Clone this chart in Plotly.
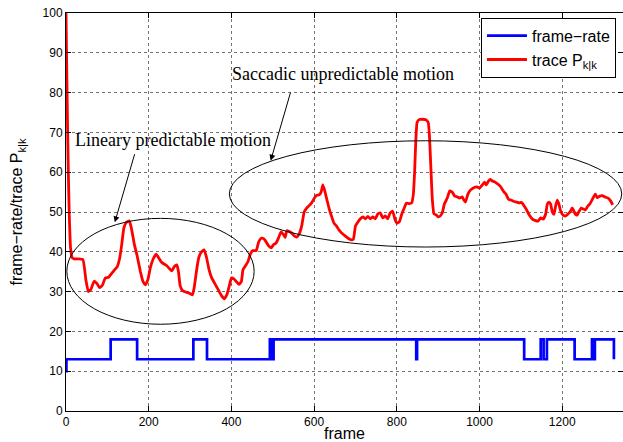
import plotly.graph_objects as go

# trace of the error covariance P_k|k over the sequence
trace_frames = [0, 2, 4, 6, 8, 11, 15, 20, 30, 41, 48, 54, 60, 68, 75, 81, 88, 95, 103, 110,
                118, 124, 130, 135, 140, 146, 153, 158, 165, 172, 180, 186, 192, 198, 204, 210,
                218, 224, 230, 236, 244, 250, 256, 262, 268, 272, 276, 282, 292, 300, 306, 310,
                316, 321, 327, 334, 340, 346, 352, 360, 368, 376, 383, 389, 395, 400, 406, 412,
                418, 424, 428, 434, 440, 446, 452, 460, 466, 472, 478, 484, 490, 496, 502, 508,
                514, 520, 526, 530, 534, 540, 546, 552, 558, 564, 570, 576, 582, 588, 594, 600,
                606, 612, 617, 621, 625, 630, 636, 642, 648, 654, 660, 664, 668, 675, 682, 690,
                695, 700, 706, 712, 718, 724, 730, 736, 742, 748, 754, 760, 766, 772, 778, 784,
                790, 796, 800, 806, 812, 818, 823, 830, 836, 840, 843, 846, 849, 854, 862, 870,
                876, 879, 882, 886, 890, 895, 900, 905, 910, 915, 922, 928, 934, 940, 946, 952,
                958, 962, 966, 972, 978, 986, 994, 1000, 1006, 1012, 1016, 1022, 1026, 1031, 1036,
                1042, 1050, 1058, 1064, 1070, 1076, 1082, 1090, 1096, 1102, 1108, 1114, 1120,
                1128, 1134, 1141, 1148, 1154, 1160, 1164, 1168, 1172, 1176, 1180, 1184, 1188,
                1192, 1196, 1202, 1208, 1214, 1220, 1224, 1228, 1232, 1236, 1240, 1246, 1250,
                1256, 1262, 1268, 1272, 1276, 1280, 1285, 1291, 1297, 1303, 1311, 1317, 1322]
trace_values = [100, 84, 70, 58, 49, 41, 38.5, 38.2, 38.2, 38.0, 33, 30, 30.5, 32.6, 32, 31,
                31.6, 33.4, 33.6, 34.5, 35.5, 36.3, 38.5, 42, 46, 47.4, 47.8, 46, 42, 39, 35,
                32.6, 31.7, 33, 36, 38, 39.4, 38.5, 37.5, 37, 36.5, 35.8, 35.2, 36.3, 36.7, 35,
                31.5, 30.2, 29.8, 29.5, 29.2, 31, 35.5, 38.5, 39.9, 40.5, 38.5, 35.5, 33.5, 32,
                30.5, 29, 28.2, 29.2, 31.5, 33.4, 33.2, 32.5, 31.8, 32.5, 35.5, 36.5, 37.5, 39.5,
                40.3, 40.3, 42.5, 43.4, 43.3, 42.5, 41.5, 41.0, 41.8, 42.2, 43.5, 45.0, 44.3,
                43.6, 45.3, 45.1, 44.7, 44.0, 43.7, 44.5, 46.5, 50, 51, 51.6, 52.3, 53.4, 54.2,
                54.3, 55, 56.8, 55.6, 53.5, 51, 49, 47.2, 46.5, 45.5, 45, 44.6, 44, 43.4, 43.0,
                43.2, 46.5, 47.5, 48.3, 48.8, 48.3, 48.9, 48.3, 48.8, 48.3, 49.5, 49.8, 48.5, 49,
                48.3, 49.8, 50.2, 48, 47.2, 47.5, 49.5, 51, 52.2, 52.1, 52.3, 54.5, 60, 68, 72.5,
                73.2, 73.3, 73.2, 72.5, 69, 62, 53, 49.5, 49.3, 48.8, 49, 49.8, 52, 53.5, 55.3,
                55, 54, 53.8, 53.5, 53.8, 53, 52.5, 54.5, 55.5, 56.1, 56.3, 56.0, 56.7, 57.5,
                56.8, 57.8, 58.2, 57.8, 57.6, 57.2, 56.5, 55.2, 54.5, 53.2, 53, 52.7, 52.5,
                52.3, 52.4, 51.5, 50.5, 49.3, 48.2, 47.9, 47.7, 48.5, 48.2, 49.5, 52, 52.5, 52,
                50, 49.4, 51.5, 53, 52, 50.3, 49.2, 49, 49.5, 50.2, 51, 50.3, 49.4, 49.2, 50, 51,
                50.8, 50.5, 51.5, 52.2, 53, 53.8, 54.5, 53.6, 54.0, 54.1, 53.8, 53.5, 52.8,
                51.8, 50]

# frame-rate switching points (step function)
rate_frames = [0, 1, 108, 172, 308, 341, 493, 497, 502, 847, 849, 1108, 1148, 1155, 1163,
               1230, 1272, 1276, 1279, 1325]
rate_values = [10, 13, 18, 13, 18, 13, 18, 13, 18, 13, 18, 13, 18, 13, 18, 13, 18, 13, 18, 13]

# annotated regions
linear_region = dict(x0=2, x1=455, y0=21.8, y1=48.4)
saccadic_region = dict(x0=395, x1=1344, y0=41.2, y1=67.9)

sans = "Liberation Sans, Arial, Helvetica, sans-serif"
serif = "Liberation Serif, Times New Roman, serif"

fig = go.Figure()
fig.add_trace(go.Scatter(x=rate_frames, y=rate_values, mode="lines", line_shape="hv",
                         line=dict(color="#0000ff", width=2.7), name="frame\u2212rate"))
fig.add_trace(go.Scatter(x=trace_frames, y=trace_values, mode="lines",
                         line=dict(color="#ff0000", width=2.8, shape="spline", smoothing=0.4),
                         name="trace P<sub>k|k</sub>"))

for reg in (linear_region, saccadic_region):
    fig.add_shape(type="circle", xref="x", yref="y", line=dict(color="black", width=1),
                  **reg)

fig.add_annotation(x=18, y=68, xref="x", yref="y", text="Lineary predictable motion",
                   showarrow=False, xanchor="left", yanchor="middle",
                   font=dict(family=serif, size=18, color="black"))
fig.add_annotation(x=396, y=84.7, xref="x", yref="y", text="Saccadic unpredictable motion",
                   showarrow=False, xanchor="left", yanchor="middle",
                   font=dict(family=serif, size=18, color="black"))
fig.add_annotation(x=118, y=47.4, ax=167, ay=64.9, xref="x", yref="y", axref="x", ayref="y",
                   text="", showarrow=True, arrowhead=2, arrowsize=1.2, arrowwidth=1,
                   arrowcolor="black")
fig.add_annotation(x=495, y=62.9, ax=544, ay=80.4, xref="x", yref="y", axref="x", ayref="y",
                   text="", showarrow=True, arrowhead=2, arrowsize=1.2, arrowwidth=1,
                   arrowcolor="black")

# x-axis title placed below the tick labels
fig.add_annotation(x=0.5, y=-0.057, xref="paper", yref="paper", text="frame",
                   showarrow=False, xanchor="center", yanchor="middle",
                   font=dict(family=sans, size=16, color="black"))

axis_common = dict(showline=True, linecolor="black", linewidth=1, mirror="ticks",
                   ticks="inside", ticklen=5, tickcolor="black",
                   showgrid=True, gridcolor="rgba(0,0,0,0.55)", griddash="dot", gridwidth=1,
                   zeroline=False, tickfont=dict(family=sans, size=12, color="black"))

fig.update_xaxes(range=[0, 1347], tickvals=[0, 200, 400, 600, 800, 1000, 1200],
                 **axis_common)
fig.update_yaxes(range=[0, 100], tickvals=list(range(0, 101, 10)),
                 title=dict(text="frame\u2212rate/trace P<sub>k|k</sub>",
                            font=dict(family=sans, size=16, color="black"), standoff=15),
                 **axis_common)

fig.update_layout(
    width=623, height=442,
    margin=dict(l=66, r=0, t=13, b=31, autoexpand=False),
    paper_bgcolor="white", plot_bgcolor="white",
    showlegend=True,
    legend=dict(x=0.745, y=0.988, xanchor="left", yanchor="top",
                bgcolor="white", bordercolor="black", borderwidth=1,
                font=dict(family=sans, size=16, color="black"),
                tracegroupgap=0, itemwidth=40),
)

fig.write_html("out.html")
